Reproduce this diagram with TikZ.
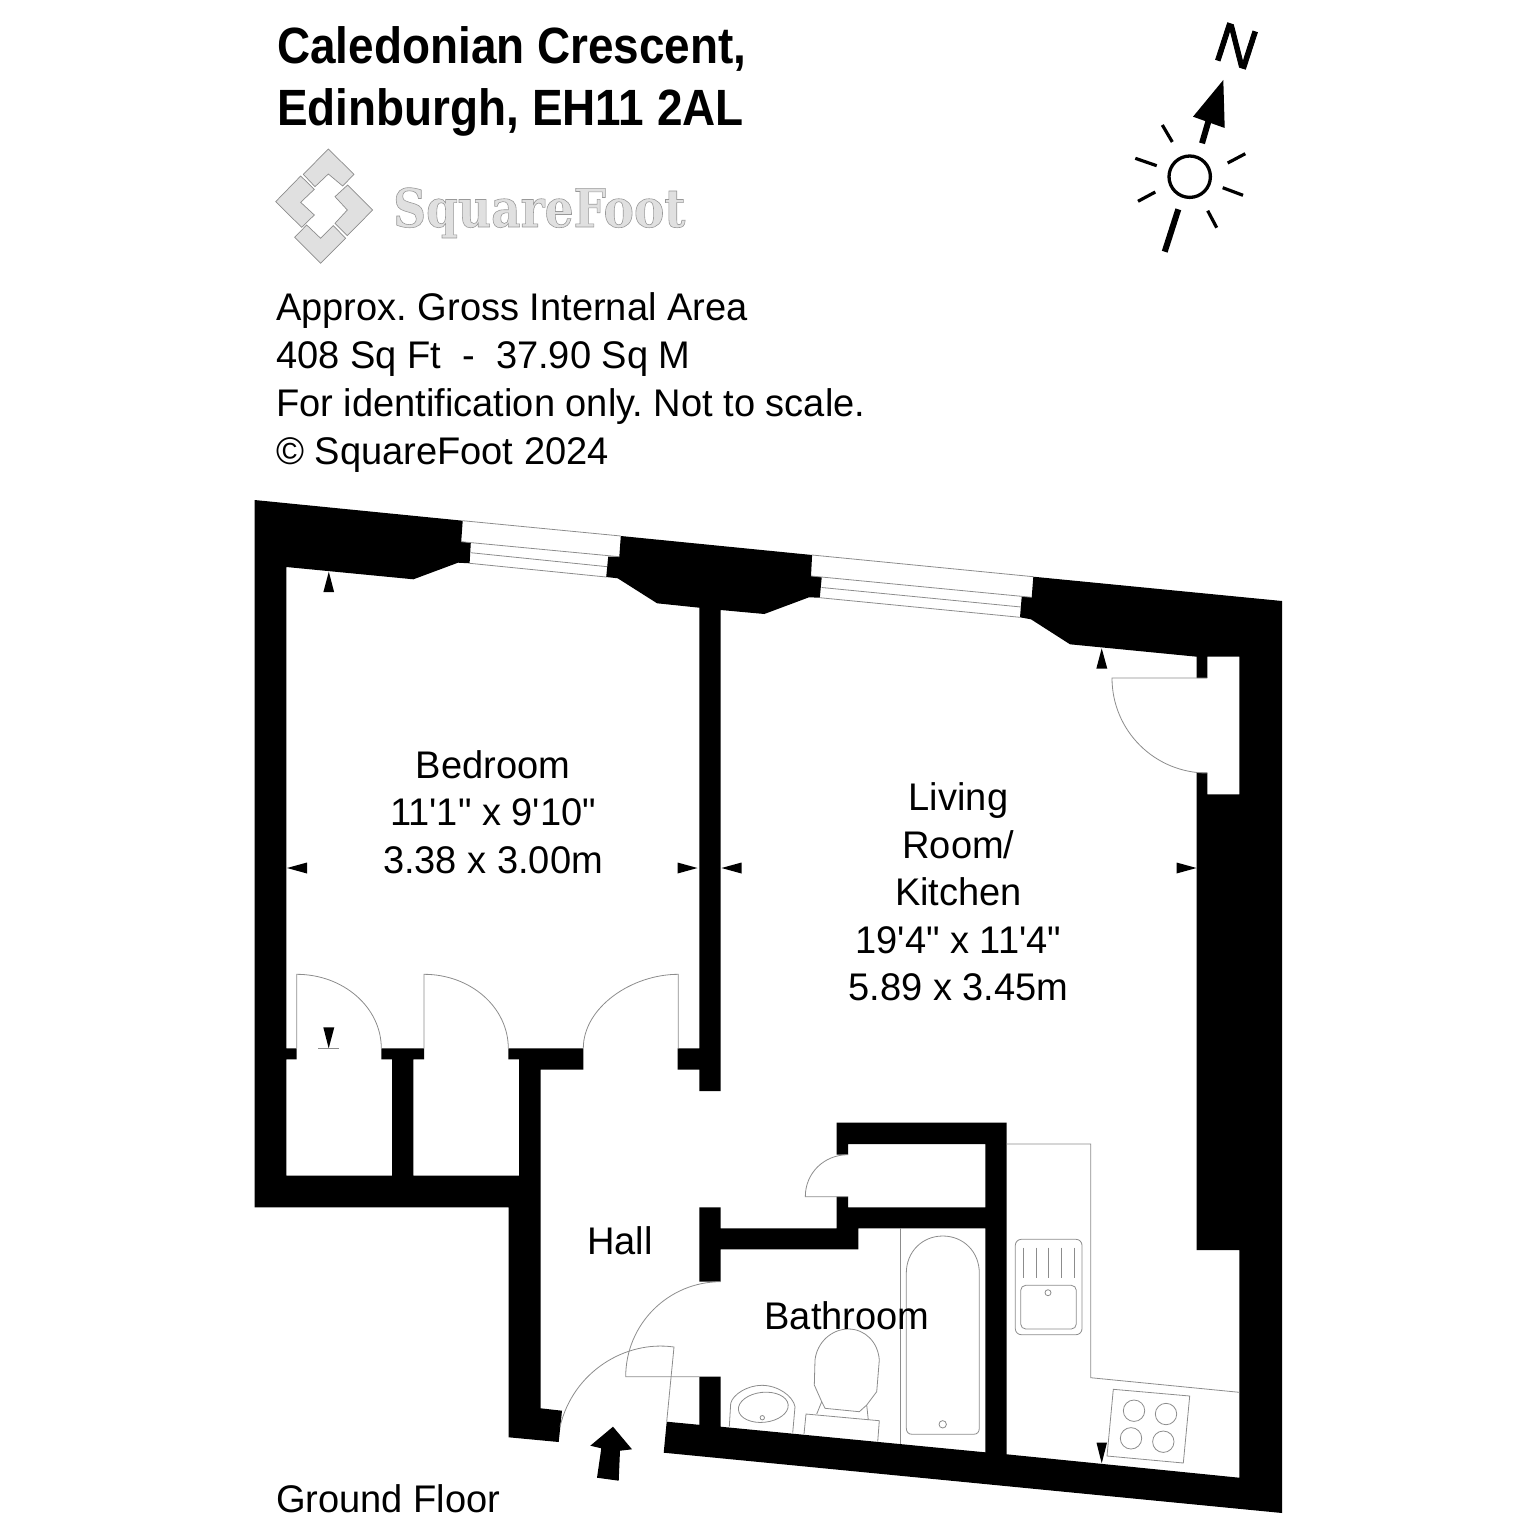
\documentclass[tikz,border=0pt]{standalone}
\usepackage{fontspec}
\setmainfont{Liberation Sans}[Ligatures=TeXOff]
\newfontfamily\logofont{DejaVu Serif}[FakeStretch=.86]
\usetikzlibrary{positioning}
\frenchspacing

\tikzset{
    wall/.style={fill=black,draw=none},
    fitting/.style={draw=black!45,line width=.8pt,fill=none},
    logopart/.style={draw=black!45,line width=.7pt,fill=black!12},
    heading/.style={inner sep=0pt,anchor=base west,font=\fontsize{51}{51}\selectfont\bfseries,xscale=.9},
    infotext/.style={inner sep=0pt,anchor=base west,font=\fontsize{38.5}{38.5}\selectfont,xscale=.988},
    roomlabel/.style={inner sep=0pt,align=center,font=\fontsize{38.5}{47.6}\selectfont,xscale=.988}
}

\begin{document}
\begin{tikzpicture}[x=1pt,y=-1pt]
        \useasboundingbox (0,0) rectangle (1536,1536);

        % header texts
        \node[heading] (titleone) at (277,64) {Caledonian Crescent,};
        \node[heading] (titletwo) at (277,126) {Edinburgh, EH11 2AL};
        \node[infotext] (infoone) at (276,320) {Approx. Gross Internal Area};
        \node[infotext] (infotwo) at (276,368) {408 Sq Ft\ \ -\ \ 37.90 Sq M};
        \node[infotext] (infothree) at (276,416) {For identification only. Not to scale.};
        \node[infotext] (infofour) at (276,464) {© SquareFoot 2024};
        \node[infotext] (floorname) at (276,1512) {Ground Floor};

        % logo
        \begin{scope}[shift={(260,140)},scale=.3333]
            \draw[logopart] (205,27) -- (282,103) -- (248,138) -- (205,102) -- (165,140) -- (130,103) -- cycle;
            \draw[logopart] (47,185) -- (122,108) -- (163,148) -- (122,187) -- (163,225) -- (125,262) -- cycle;
            \draw[logopart] (104,292) -- (140,255) -- (182,295) -- (220,257) -- (257,295) -- (182,370) -- cycle;
            \draw[logopart] (225,170) -- (263,135) -- (338,210) -- (262,287) -- (225,250) -- (262,210) -- cycle;
        \end{scope}
        \node[inner sep=0pt,anchor=base west,text=black!12,font=\fontsize{53}{53}\logofont\bfseries] (logoname) at (393,227)
            {\special{pdf:code 2 Tr .6 w .6 G}SquareFoot\special{pdf:code 0 Tr}};

        % compass
        \draw[line width=3.3pt] (1189.7,176.7) circle[radius=20.7pt];
        \draw[line width=3.2pt] (1162.3,125) -- (1172.3,142);
        \draw[line width=3.2pt] (1135.3,158.3) -- (1156.7,165.7);
        \draw[line width=3.2pt] (1138,201.3) -- (1155.3,192);
        \draw[line width=3.2pt] (1207.7,210.7) -- (1216.7,227.7);
        \draw[line width=3.2pt] (1222.7,187.7) -- (1243,195.3);
        \draw[line width=3.2pt] (1227.7,163) -- (1245.3,153.7);
        \draw[line width=6pt] (1178.3,209.3) -- (1164.7,251.7);
        \draw[line width=6pt] (1202,143.3) -- (1208.3,121.7);
        \fill (1223.3,80) -- (1193,116.7) -- (1224.7,128) -- cycle;
        \node[inner sep=0pt,rotate=-18,font=\fontsize{56}{56}\selectfont] (north) at (1236.5,46)
            {\special{pdf:code 2 Tr .9 w 0 G}N\special{pdf:code 0 Tr}};

        % walls, left part
        \fill[wall] (254.5,500) -- (462.7,520.7) -- (461.2,541.7) -- (470.8,542.7) -- (469.6,563.3) -- (458,562.7) -- (413.4,579.3) -- (286.3,567)
            -- (286.3,1048.3) -- (296.7,1048.3) -- (296.7,1059.3) -- (286.3,1059.3) -- (286.3,1175.7) -- (392,1175.7) -- (392,1059.3) -- (381.3,1059.3)
            -- (381.3,1048.3) -- (424,1048.3) -- (424,1059.3) -- (413.3,1059.3) -- (413.3,1175.7) -- (519,1175.7) -- (519,1059.3) -- (508.3,1059.3)
            -- (508.3,1048.3) -- (583.3,1048.3) -- (583.3,1069.7) -- (540.7,1069.7) -- (540.7,1408.3) -- (562,1410.7) -- (558.7,1442) -- (508.7,1437.3)
            -- (508.7,1207.3) -- (254.5,1207.3) -- cycle;

        % walls, pier and partition
        \fill[wall] (620.8,536) -- (812.1,555) -- (811,576) -- (821.7,577.3) -- (819.8,597.7) -- (809,597.3) -- (764.3,614) -- (720.7,610)
            -- (720.7,1091) -- (699.3,1091) -- (699.3,1069.7) -- (677.7,1069.7) -- (677.7,1048.3) -- (699.3,1048.3) -- (699.3,607.7)
            -- (657.1,603.3) -- (617.7,578.3) -- (606.2,577) -- (608.2,556.7) -- (619.3,556.7) -- cycle;

        % walls, right part
        \fill[wall] (666.7,1421.7) -- (699.3,1424.8) -- (699.3,1376.7) -- (720.7,1376.7) -- (720.7,1426.7) -- (985.3,1452.3) -- (985.3,1228.3)
            -- (858.3,1228.3) -- (858.3,1249.3) -- (720.7,1249.3) -- (720.7,1281.7) -- (699.3,1281.7) -- (699.3,1207.3) -- (720.7,1207.3) -- (720.7,1228.3)
            -- (836.7,1228.3) -- (836.7,1196.7) -- (848,1196.7) -- (848,1207.3) -- (985.3,1207.3) -- (985.3,1144) -- (848,1144) -- (848,1154.7)
            -- (836.7,1154.7) -- (836.7,1122.7) -- (1006.7,1122.7) -- (1006.7,1454.3) -- (1239.3,1477.7) -- (1239.3,1250) -- (1196.7,1250)
            -- (1196.7,772.7) -- (1207.3,772.7) -- (1207.3,794.3) -- (1239.3,794.3) -- (1239.3,656.7) -- (1207.3,656.7) -- (1207.3,678) -- (1196.7,678)
            -- (1196.7,656.7) -- (1070,644.3) -- (1031,619.3) -- (1020,617.3) -- (1021.7,596.7) -- (1031.7,597.3) -- (1033.3,576.7) -- (1282,601)
            -- (1282,1513) -- (663.7,1452.7) -- cycle;

        % windows
        \draw[fitting] (462.7,520.7) -- (620.8,536);
        \draw[fitting] (461.2,541.7) -- (619.3,556.7);
        \draw[fitting] (470.8,552.7) -- (607.4,566.7);
        \draw[fitting] (469.6,563.3) -- (606.2,577);
        \draw[fitting] (812.1,555) -- (1033.3,576.7);
        \draw[fitting] (811,576) -- (1031.7,597.3);
        \draw[fitting] (821.7,587.5) -- (1021,607);
        \draw[fitting] (819.8,597.7) -- (1020,617.3);

        % doors
        \draw[fitting] (296.7,1048.3) -- (296.7,974.3) .. controls (343.4,974.3) and (381.3,1007.4) .. (381.3,1048.3);
        \draw[fitting] (424,1048.3) -- (424,974.3) .. controls (470.7,974.3) and (508.3,1007.4) .. (508.3,1048.3);
        \draw[fitting] (678.3,1048.3) -- (678.3,974.3) .. controls (631.6,974.3) and (583.3,1007.4) .. (583.3,1048.3);
        \draw[fitting] (1207,678) -- (1112,678) .. controls (1112,730.5) and (1154.5,773) .. (1207,773);
        \draw[fitting] (848,1196.7) -- (805.3,1196.7) .. controls (805.3,1173) and (824,1154.7) .. (848,1154.7);
        \draw[fitting] (699.3,1376.7) -- (625.7,1376.7) .. controls (625.7,1324.2) and (668.2,1281.7) .. (720.7,1281.7);
        \draw[fitting] (666.7,1421.7) -- (674,1347) .. controls (625,1340) and (573,1372) .. (560,1426.7);

        % bath
        \draw[fitting] (900.7,1228.3) -- (900.7,1444);
        \draw[fitting] (906.3,1273) .. controls (906.3,1252) and (922,1236) .. (942.8,1236) .. controls (963.6,1236) and (979.3,1252) .. (979.3,1273)
            -- (979.3,1428) .. controls (979.3,1432) and (977.3,1434.3) .. (973.3,1434.3) -- (912.3,1434.3) .. controls (908.3,1434.3) and (906.3,1432) .. (906.3,1428) -- cycle;
        \draw[fitting] (942.7,1424.3) circle[radius=3.7pt];

        % basin
        \draw[fitting] (729.3,1426.7) -- (730.7,1403.3) .. controls (733,1394) and (748,1385.3) .. (761.7,1385.3) .. controls (778,1385.3) and (793,1396) .. (795,1406.7) -- (792.7,1432.7);
        \draw[fitting] (763.3,1407.3) ellipse[x radius=25pt,y radius=15pt,rotate=6];
        \draw[fitting] (762.3,1417.7) circle[radius=2.2pt];

        % toilet
        \draw[fitting] (804,1434) -- (806,1414) -- (879.3,1420.7) -- (877.7,1441.7);
        \draw[fitting] (816.7,1414) -- (821.7,1401.7) -- (814.3,1385) -- (815,1360) .. controls (817,1342) and (832,1329) .. (848.3,1329)
            .. controls (865,1329) and (878,1342) .. (879.3,1360) -- (876.7,1391.7) -- (866.7,1405) -- (868.3,1420);
        \draw[fitting] (821.7,1401.7) -- (825,1408.3) -- (859.3,1411.7) -- (866.7,1405);

        % kitchen worktop, sink and hob
        \draw[fitting] (1006.7,1144) -- (1090.7,1144) -- (1090.7,1377.7) -- (1239.3,1392.3);
        \draw[fitting,rounded corners=6pt] (1015.3,1239.3) rectangle (1082,1334.7);
        \draw[fitting,rounded corners=5pt] (1020.7,1285.3) rectangle (1076.3,1329);
        \draw[fitting] (1048,1292.7) circle[radius=3pt];
        \foreach \ribx in {1023.7,1036,1048.7,1061.7,1074.7} {
            \draw[fitting] (\ribx,1247.7) -- (\ribx,1277.7);
        }
        \draw[fitting] (1113.3,1389.3) -- (1189.7,1396) -- (1183.3,1463) -- (1107,1456) -- cycle;
        \draw[fitting] (1134,1410.7) circle[radius=10.7pt];
        \draw[fitting] (1166,1414) circle[radius=10.7pt];
        \draw[fitting] (1131,1438.3) circle[radius=10.7pt];
        \draw[fitting] (1163.3,1441.7) circle[radius=10.7pt];

        % dimension ticks
        \fill (328.8,571.7) -- (323.4,592) -- (334.1,592) -- cycle;
        \fill (287,868) -- (307,862.5) -- (307,873.5) -- cycle;
        \fill (697.5,868) -- (677.5,862.5) -- (677.5,873.5) -- cycle;
        \fill (721.5,868) -- (741.5,862.5) -- (741.5,873.5) -- cycle;
        \fill (1196.5,868) -- (1176.5,862.5) -- (1176.5,873.5) -- cycle;
        \fill (1101.7,648.3) -- (1096.3,668.7) -- (1107.3,668.7) -- cycle;
        \fill (1101.7,1463.3) -- (1096.5,1442.7) -- (1107,1442.7) -- cycle;
        \fill (328.7,1048.3) -- (323.3,1027.3) -- (334.3,1027.3) -- cycle;
        \draw[fitting] (318,1048.3) -- (339.3,1048.3);

        % entrance arrow
        \fill (613,1426.7) -- (590.3,1445.7) -- (601.3,1448.3) -- (597,1477.7) -- (618.7,1480.7) -- (620,1450.7) -- (632,1449.3) -- cycle;

        % room labels
        \node[roomlabel] (bedroom) at (493,812) {Bedroom\\11'1" x 9'10"\\3.38 x 3.00m};
        \node[roomlabel] (living) at (958.5,892) {Living\\Room/\\Kitchen\\19'4" x 11'4"\\5.89 x 3.45m};
        \node[roomlabel,anchor=base] (hall) at (620,1254) {Hall};
        \node[roomlabel,anchor=base] (bathroom) at (847,1329) {Bathroom};
    \end{tikzpicture}
\end{document}
